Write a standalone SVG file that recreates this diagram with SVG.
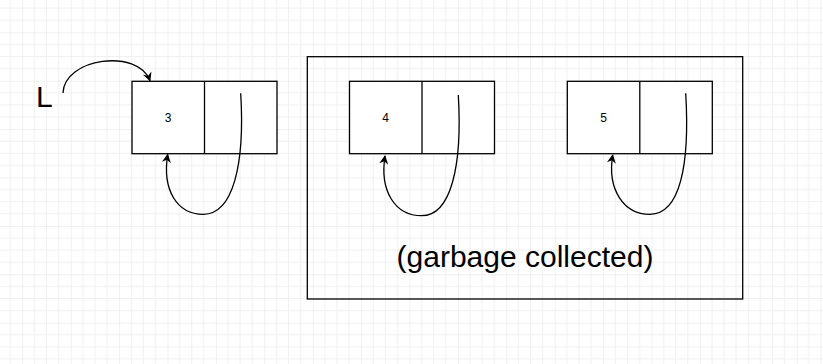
<svg xmlns="http://www.w3.org/2000/svg" width="823" height="364" viewBox="0 0 823 364">
<style>
.box{fill:#ffffff;stroke:#000000;stroke-width:1.3}
.frame{fill:none;stroke:#000000;stroke-width:1.3}
.div{stroke:#000000;stroke-width:1.3}
.num{font-family:"Liberation Sans",Arial,Helvetica,sans-serif;font-size:12px;fill:#000000;text-anchor:middle}
.big{font-family:"Liberation Sans",Arial,Helvetica,sans-serif;font-size:30px;fill:#000000}
.conn{fill:none;stroke:#000000;stroke-width:1.3;marker-end:url(#arr)}
</style>
<defs>
<pattern id="grid" patternUnits="userSpaceOnUse" x="22.3" y="32.3" width="48.4" height="48.4">
<path d="M12.1 0V48.4M24.2 0V48.4M36.3 0V48.4M0 12.1H48.4M0 24.2H48.4M0 36.3H48.4" stroke="#f0f0f0" stroke-width="1" fill="none"/>
<path d="M0 0V48.4M0 0H48.4" stroke="#e1e1e1" stroke-width="1" fill="none"/>
</pattern>
<marker id="arr" viewBox="0 0 10 10" refX="9" refY="5" markerWidth="10" markerHeight="9" markerUnits="userSpaceOnUse" orient="auto">
<path d="M0 0L10 5L0 10L3 5Z" fill="#000000"/>
</marker>
</defs>
<rect width="823" height="364" fill="#ffffff"/>
<rect width="823" height="364" fill="url(#grid)"/>
<g id="gc-frame">
<rect class="frame" x="307.3" y="56.7" width="435.4" height="242.3"/>
<text class="big" x="525" y="266.5" text-anchor="middle">(garbage collected)</text>
</g>
<g id="label-L">
<text class="big" x="36" y="106.7">L</text>
</g>
<g id="node3">
<rect class="box" x="132" y="81.3" width="145" height="72.4"/>
<line class="div" x1="204.5" y1="81.3" x2="204.5" y2="153.7"/>
<text class="num" x="168.2" y="122.3">3</text>
</g>
<g id="node4">
<rect class="box" x="349.5" y="81.3" width="145" height="72.4"/>
<line class="div" x1="422" y1="81.3" x2="422" y2="153.7"/>
<text class="num" x="385.7" y="122.3">4</text>
</g>
<g id="node5">
<rect class="box" x="567.3" y="81.3" width="145" height="72.4"/>
<line class="div" x1="639.8" y1="81.3" x2="639.8" y2="153.7"/>
<text class="num" x="603.5" y="122.3">5</text>
</g>
<g id="connectors">
<path class="conn" d="M63 93C64 58 138 48 150 80.7"/>
<path class="conn" d="M240.7 93.3C245 165 233 214.3 203.3 214.3C177 214.3 162 190 167.7 154.5"/>
<path class="conn" d="M458.3 95C462.5 166 451 215.7 421.7 215.7C395 215.7 379.5 191 385 156"/>
<path class="conn" d="M685.7 93.3C690 165 680 214.3 650 214.3C624 214.3 607 190 612.7 155"/>
</g>
</svg>
